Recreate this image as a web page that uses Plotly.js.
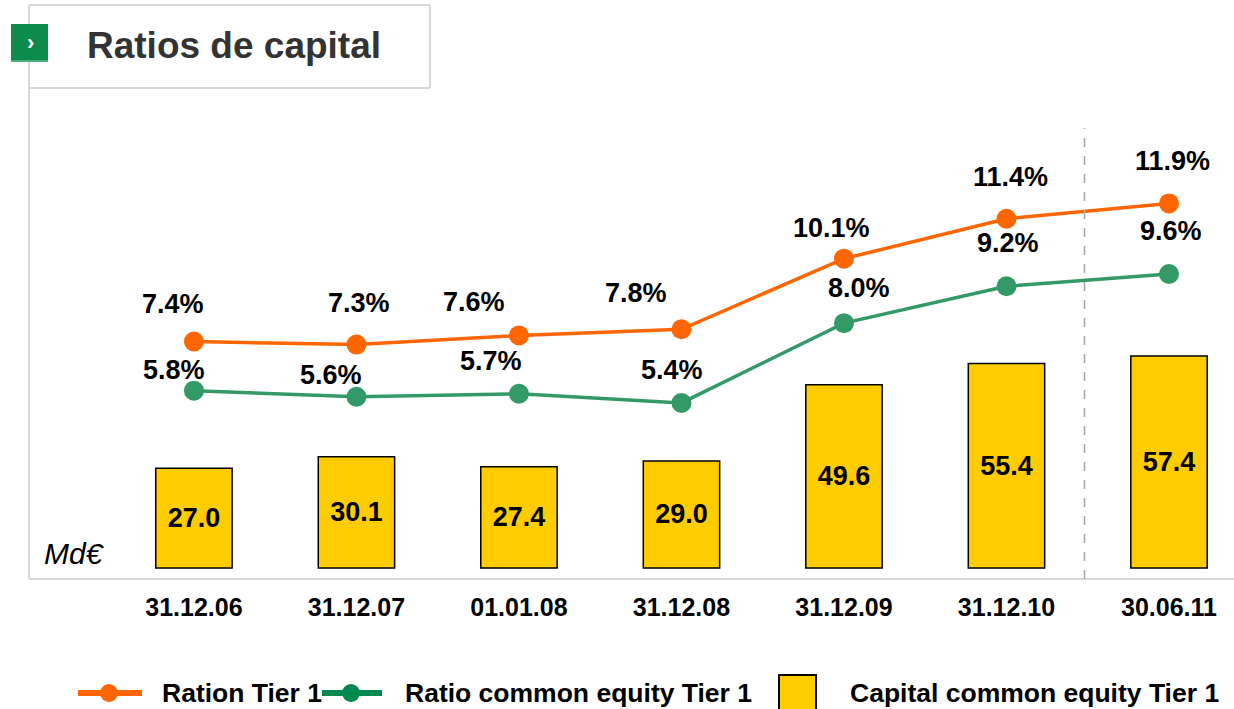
<!DOCTYPE html>
<html>
<head>
<meta charset="utf-8">
<script src="https://cdn.plot.ly/plotly-3.0.1.min.js"></script>
<style>html,body{margin:0;padding:0;background:#fff;}#chart{width:1234px;height:709px;}</style>
</head>
<body>
<div id="chart"></div>
<script>
// ---- data ----
const categories = ['31.12.06','31.12.07','01.01.08','31.12.08','31.12.09','31.12.10','30.06.11'];
const tier1 = [7.4, 7.3, 7.6, 7.8, 10.1, 11.4, 11.9];
const cet1 = [5.8, 5.6, 5.7, 5.4, 8.0, 9.2, 9.6];
const capital = [27.0, 30.1, 27.4, 29.0, 49.6, 55.4, 57.4];
const seriesNames = ['Ration Tier 1', 'Ratio common equity Tier 1', 'Capital common equity Tier 1'];

// ---- label offsets (pixels, y up) ----
const tier1LabelOffsets = [[-21,38],[3,42],[-45,33],[-45,36],[-12,31],[4,42],[3,42]];
const cet1LabelOffsets = [[-20,21],[-25,22],[-28,33],[-9,33],[15,35],[2,43],[2,43]];

const FONT = 'Liberation Sans, Arial, Helvetica, sans-serif';
const ORANGE = '#FF6600';
const GREEN = '#339966';
const GREEN_LEG = '#00894F';
const YELLOW = '#FFCC00';

// plot area in pixels
const L = 29, R = 1234, T = 88, B = 579;
const px = x => (x - L) / (R - L);
const py = y => (B - y) / (B - T);

const traces = [
  {
    type: 'bar', x: categories, y: capital, name: seriesNames[2],
    yaxis: 'y', width: 0.47,
    marker: {color: YELLOW, line: {color: '#000', width: 1.5}},
    texttemplate: '%{y:.1f}', textposition: 'inside', insidetextanchor: 'middle',
    constraintext: 'none',
    textfont: {family: FONT, size: 27, color: '#000', weight: 'bold'},
    hoverinfo: 'skip', showlegend: false
  },
  {
    type: 'scatter', mode: 'lines+markers', x: categories, y: tier1, name: seriesNames[0],
    yaxis: 'y2', line: {color: ORANGE, width: 3.5}, marker: {color: ORANGE, size: 20},
    cliponaxis: false, showlegend: false
  },
  {
    type: 'scatter', mode: 'lines+markers', x: categories, y: cet1, name: seriesNames[1],
    yaxis: 'y2', line: {color: GREEN, width: 3.5}, marker: {color: GREEN, size: 20},
    cliponaxis: false, showlegend: false
  }
];

const annotations = [];
const labelFont = {family: FONT, size: 27, color: '#000', weight: 'bold'};
tier1.forEach((v, i) => annotations.push({
  x: categories[i], y: v, xref: 'x', yref: 'y2', text: v.toFixed(1) + '%',
  showarrow: false, xshift: tier1LabelOffsets[i][0], yshift: tier1LabelOffsets[i][1], font: labelFont
}));
cet1.forEach((v, i) => annotations.push({
  x: categories[i], y: v, xref: 'x', yref: 'y2', text: v.toFixed(1) + '%',
  showarrow: false, xshift: cet1LabelOffsets[i][0], yshift: cet1LabelOffsets[i][1], font: labelFont
}));

// title
annotations.push({xref: 'paper', yref: 'paper', x: px(234), y: py(45), text: 'Ratios de capital',
  showarrow: false, xanchor: 'center', yanchor: 'middle',
  font: {family: FONT, size: 37, color: '#333333', weight: 'bold'}});
// chevron in icon
annotations.push({xref: 'paper', yref: 'paper', x: px(30), y: py(43), text: '›',
  showarrow: false, xanchor: 'center', yanchor: 'middle',
  font: {family: FONT, size: 22, color: '#ffffff', weight: 'bold'}});
// unit
annotations.push({xref: 'paper', yref: 'paper', x: px(42), y: py(553), text: 'Md€',
  showarrow: false, xanchor: 'left', yanchor: 'middle',
  font: {family: FONT, size: 30, color: '#000', style: 'italic'}});

// legend texts
const legFont = {family: FONT, size: 26.5, color: '#000', weight: 'bold'};
[[160, seriesNames[0]], [403, seriesNames[1]], [848, seriesNames[2]]].forEach(([x, t]) =>
  annotations.push({xref: 'paper', yref: 'paper', x: px(x), y: py(693), text: t,
    showarrow: false, xanchor: 'left', yanchor: 'middle', font: legFont}));

const frame = {color: '#D9D9D9', width: 2};
const shapes = [
  // frame
  {type: 'line', xref: 'paper', yref: 'paper', x0: 0, x1: 0, y0: 0, y1: py(5), line: frame},
  {type: 'line', xref: 'paper', yref: 'paper', x0: 0, x1: 1, y0: 0, y1: 0, line: frame},
  {type: 'line', xref: 'paper', yref: 'paper', x0: 0, x1: px(430), y0: py(5), y1: py(5), line: frame},
  {type: 'line', xref: 'paper', yref: 'paper', x0: px(430), x1: px(430), y0: py(5), y1: py(88), line: frame},
  {type: 'line', xref: 'paper', yref: 'paper', x0: 0, x1: px(430), y0: py(88), y1: py(88), line: frame},
  // icon
  {type: 'rect', xref: 'paper', yref: 'paper', x0: px(11), x1: px(48), y0: py(62), y1: py(24),
    fillcolor: '#0E8A4E', line: {width: 0}},
  {type: 'line', xref: 'paper', yref: 'paper', x0: px(11), x1: px(48), y0: py(61), y1: py(61),
    line: {color: '#4DAE7E', width: 2}},
  // dashed separator
  {type: 'line', xref: 'x', yref: 'paper', x0: 5.48, x1: 5.48, y0: 0, y1: py(128),
    line: {color: '#A6A6A6', width: 1.5, dash: 'dash'}},
  // legend symbols
  {type: 'line', xref: 'paper', yref: 'paper', x0: px(78), x1: px(142), y0: py(693), y1: py(693),
    line: {color: ORANGE, width: 6}},
  {type: 'circle', xref: 'paper', yref: 'paper', x0: px(100), x1: px(118), y0: py(702), y1: py(684),
    fillcolor: ORANGE, line: {width: 0}},
  {type: 'line', xref: 'paper', yref: 'paper', x0: px(322), x1: px(382), y0: py(693), y1: py(693),
    line: {color: GREEN_LEG, width: 6}},
  {type: 'circle', xref: 'paper', yref: 'paper', x0: px(342), x1: px(360), y0: py(702), y1: py(684),
    fillcolor: GREEN_LEG, line: {width: 0}},
  {type: 'rect', xref: 'paper', yref: 'paper', x0: px(779), x1: px(816), y0: py(712), y1: py(675),
    fillcolor: YELLOW, line: {color: '#000', width: 2}}
];

const layout = {
  width: 1234, height: 709,
  margin: {l: L, r: 1234 - R, t: T, b: 709 - B, pad: 0},
  paper_bgcolor: '#fff', plot_bgcolor: '#fff',
  showlegend: false,
  xaxis: {type: 'category', range: [-1.015, 6.4], showgrid: false, zeroline: false, showline: false,
    ticks: '', ticklabelstandoff: 11, tickfont: {family: FONT, size: 25, color: '#000', weight: 'bold'},
    fixedrange: true},
  yaxis: {range: [-2.98, 130.0], visible: false, fixedrange: true},
  yaxis2: {range: [-0.336, 15.66], overlaying: 'y', visible: false, fixedrange: true},
  annotations: annotations,
  shapes: shapes
};

Plotly.newPlot('chart', traces, layout, {staticPlot: true, displayModeBar: false});
</script>
</body>
</html>
